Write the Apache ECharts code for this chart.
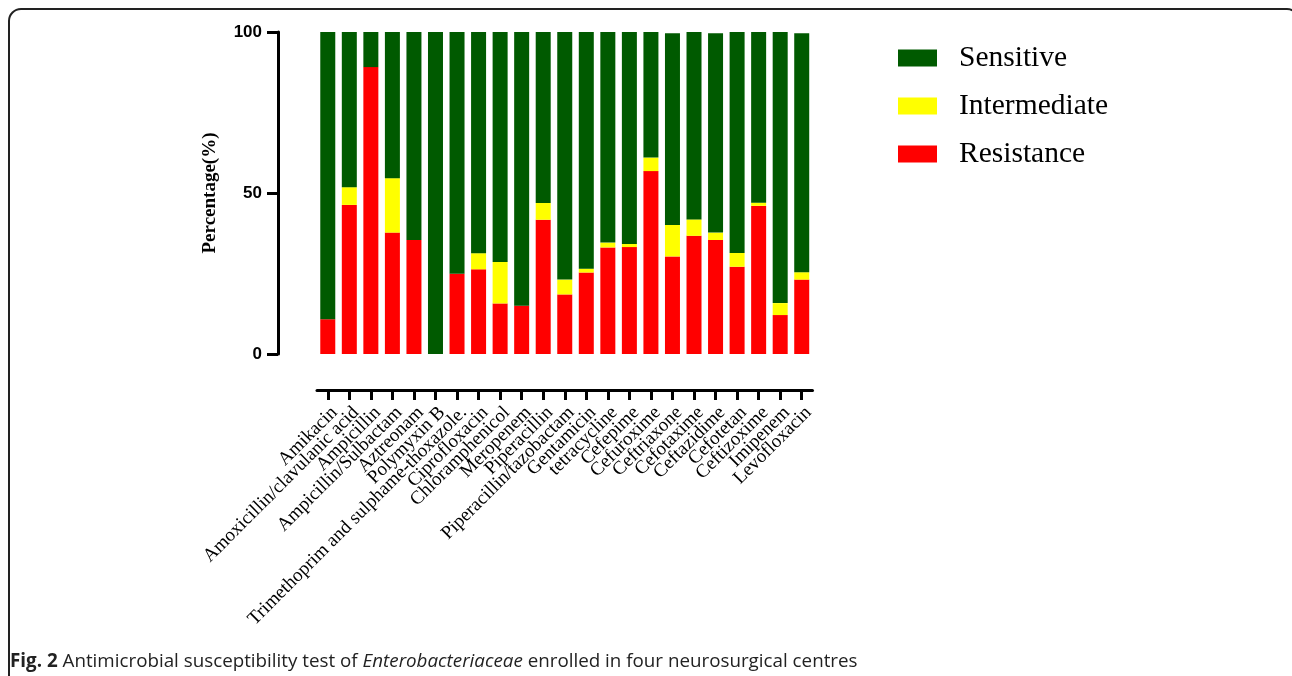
<!DOCTYPE html>
<html>
<head>
<meta charset="utf-8">
<script src="https://cdn.jsdelivr.net/npm/echarts@6/dist/echarts.min.js"></script>
<style>
  html, body { margin: 0; padding: 0; background: #fff; }
  #chart { width: 1292px; height: 676px; }
</style>
</head>
<body>
<div id="chart"></div>
<script>
const drugs = [
  'Amikacin', 'Amoxicillin/clavulanic acid', 'Ampicillin', 'Ampicillin/Sulbactam',
  'Aztreonam', 'Polymyxin B', 'Trimethoprim and sulphame-thoxazole.', 'Ciprofloxacin',
  'Chloramphenicol', 'Meropenem', 'Piperacillin', 'Piperacillin/tazobactam',
  'Gentamicin', 'tetracycline', 'Cefepime', 'Cefuroxime', 'Ceftriaxone',
  'Cefotaxime', 'Ceftazidime', 'Cefotetan', 'Ceftizoxime', 'Imipenem', 'Levofloxacin'
]

// percentages
const resistance = [10.8, 46.3, 89.1, 37.7, 35.4, 0, 24.9, 26.3, 15.7, 15.0, 41.7, 18.5,
  25.3, 33.1, 33.2, 56.8, 30.3, 36.7, 35.4, 27.1, 46.0, 12.1, 23.1]
const intermediate = [0, 5.5, 0, 16.9, 0, 0, 0, 5.0, 12.9, 0, 5.2, 4.6,
  1.2, 1.5, 1.0, 4.2, 9.8, 5.1, 2.3, 4.3, 1.0, 3.7, 2.3]
const sensitive = [89.2, 48.2, 10.9, 45.4, 64.6, 100, 75.1, 68.7, 71.4, 85.0, 53.1, 76.9,
  73.5, 65.4, 65.8, 39.0, 59.5, 58.2, 61.9, 68.6, 53.0, 84.2, 74.2]

const yTicks = [0, 50, 100]

const chart = echarts.init(document.getElementById('chart'))

const serif = '"Liberation Serif", "Times New Roman", serif'
const capFont = '"Open Sans", "Noto Sans", sans-serif'

chart.setOption({
  animation: false,
  backgroundColor: '#fff',
  grid: {left: 317, right: 479.5, top: 32, bottom: 322},
  legend: {
    orient: 'vertical',
    left: 898,
    top: 43,
    padding: 0,
    itemWidth: 39,
    itemHeight: 17,
    itemGap: 18,
    icon: 'rect',
    data: ['Sensitive', 'Intermediate', 'Resistance'],
    textStyle: {fontFamily: serif, fontSize: 29.5, color: '#000', padding: [0, 0, 0, 17]}
  },
  xAxis: {
    type: 'category',
    data: drugs,
    offset: 36,
    axisLine: {onZero: false, lineStyle: {color: '#000', width: 3}},
    axisTick: {show: true, alignWithLabel: true, interval: 0, length: 10, lineStyle: {color: '#000', width: 3}},
    axisLabel: {
      interval: 0, rotate: 45, margin: 13, verticalAlign: 'top',
      overflow: 'none', width: 600, hideOverlap: false,
      fontFamily: serif, fontSize: 19, color: '#000'
    }
  },
  yAxis: {
    type: 'value',
    min: yTicks[0],
    max: yTicks[yTicks.length - 1],
    interval: 50,
    offset: 39,
    name: 'Percentage(%)',
    nameLocation: 'middle',
    nameGap: 58,
    nameTextStyle: {fontFamily: serif, fontSize: 19, fontWeight: 'bold', color: '#000'},
    axisLine: {show: true, lineStyle: {color: '#000', width: 3}},
    axisTick: {show: true, length: 11, lineStyle: {color: '#000', width: 3}},
    axisLabel: {
      margin: 16,
      fontFamily: '"Liberation Sans", Arial, sans-serif',
      fontSize: 17, fontWeight: 'bold', color: '#000'
    },
    splitLine: {show: false}
  },
  series: [
    {name: 'Resistance', type: 'bar', stack: 'all', barWidth: 15, data: resistance, itemStyle: {color: '#ff0000'}},
    {name: 'Intermediate', type: 'bar', stack: 'all', barWidth: 15, data: intermediate, itemStyle: {color: '#ffff00'}},
    {name: 'Sensitive', type: 'bar', stack: 'all', barWidth: 15, data: sensitive, itemStyle: {color: '#005a00'}}
  ],
  graphic: [
    {
      type: 'rect',
      shape: {x: 9, y: 9, width: 1290, height: 700, r: 12},
      style: {fill: 'none', stroke: '#222', lineWidth: 2},
      silent: true
    },
    {
      type: 'text',
      left: 10,
      top: 652,
      style: {
        text: '{b|Fig. 2} Antimicrobial susceptibility test of {i|Enterobacteriaceae} enrolled in four neurosurgical centres',
        fontFamily: capFont,
        fontSize: 18.8,
        fill: '#222',
        rich: {
          b: {fontFamily: capFont, fontSize: 18.8, fontWeight: 'bold', fill: '#222'},
          i: {fontFamily: capFont, fontSize: 18.8, fontStyle: 'italic', fill: '#222'}
        }
      }
    }
  ]
})
</script>
</body>
</html>
